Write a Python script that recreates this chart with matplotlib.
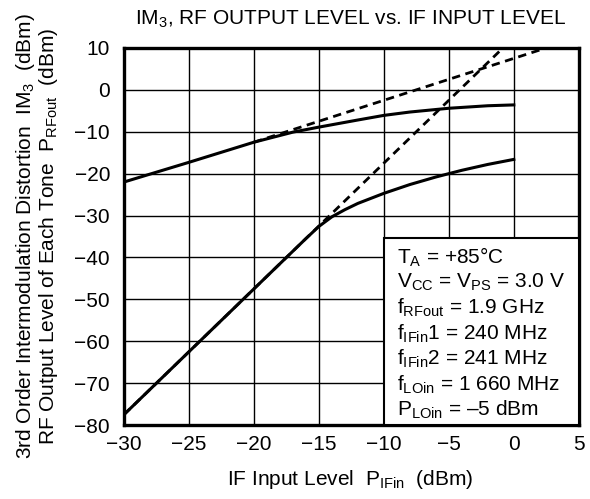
import matplotlib
matplotlib.use('Agg')
import matplotlib.pyplot as plt
from matplotlib.patches import Rectangle

plt.rcParams['font.family'] = ['Liberation Sans', 'DejaVu Sans']
plt.rcParams['mathtext.fontset'] = 'custom'
plt.rcParams['mathtext.rm'] = 'Liberation Sans'
plt.rcParams['mathtext.it'] = 'Liberation Sans'
plt.rcParams['font.size'] = 15

fund_x = [-30, -25, -20, -17, -15, -12, -10, -8, -5, -2, 0]
fund_y = [-22, -17.3, -12.5, -10.1, -8.9, -7.2, -6.1, -5.3, -4.4, -3.8, -3.6]
im3_x = [-30, -25, -20, -16, -15, -14, -13, -12, -10, -8, -6, -4, -2, 0]
im3_y = [-77.5, -62.5, -47.5, -35.5, -32.6, -30.3, -28.6, -27.1, -24.7,
         -22.6, -20.8, -19.2, -17.8, -16.6]

# extrapolated (dashed) lines
fund_ext_x = [-20, 2.6]
fund_ext_y = [-12.5, 10.1]
im3_ext_x = [-30, -0.8]
im3_ext_y = [-77.5, 10.1]

xticks = [-30, -25, -20, -15, -10, -5, 0, 5]
yticks = [-80, -70, -60, -50, -40, -30, -20, -10, 0, 10]

cond_lines = [
    r'T$_{\mathrm{A}}$ = +85°C',
    r'V$_{\mathrm{CC}}$ = V$_{\mathrm{PS}}$ = 3.0 V',
    r'f$_{\mathrm{RFout}}$ = 1.9 GHz',
    r'f$_{\mathrm{IFin}}$1 = 240 MHz',
    r'f$_{\mathrm{IFin}}$2 = 241 MHz',
    r'f$_{\mathrm{LOin}}$ = 1 660 MHz',
    r'P$_{\mathrm{LOin}}$ = –5 dBm',
]

fig = plt.figure(figsize=(5.9, 4.99), dpi=100)
ax = fig.add_axes([0.210, 0.148, 0.771, 0.756])

ax.plot(fund_ext_x, fund_ext_y, color='k', lw=2, ls=(0, (3, 2)), zorder=3)
ax.plot(im3_ext_x, im3_ext_y, color='k', lw=2, ls=(0, (3, 2)), zorder=3)
ax.plot(fund_x, fund_y, color='k', lw=2.2, zorder=4)
ax.plot(im3_x, im3_y, color='k', lw=2.2, zorder=4)

ax.set_xlim(-30, 5)
ax.set_ylim(-80, 10)
ax.set_xticks(xticks)
ax.set_yticks(yticks)
ax.grid(True, color='k', lw=1.0)
ax.tick_params(length=0, labelsize=15)
ax.tick_params(axis='x', pad=7)
ax.tick_params(axis='y', pad=10)
for sp in ax.spines.values():
    sp.set_linewidth(2.4)

# condition box covering the lower right grid cells
ax.add_patch(Rectangle((-10, -80), 15, 44.6, facecolor='white',
                       edgecolor='k', lw=1.5, zorder=5))
for i, line in enumerate(cond_lines):
    ax.text(0.60, 0.446 - i * 0.0676, line, transform=ax.transAxes,
            fontsize=15, va='center', ha='left', zorder=6)

fig.text(0.594, 0.962, r'IM$_{\mathrm{3}}$, RF OUTPUT LEVEL vs. IF INPUT LEVEL',
         ha='center', va='center', fontsize=15)
fig.text(0.594, 0.040, r'IF Input Level  P$_{\mathrm{IFin}}$  (dBm)',
         ha='center', va='center', fontsize=15)
fig.text(0.043, 0.527, r'3rd Order Intermodulation Distortion  IM$_{\mathrm{3}}$  (dBm)',
         rotation=90, ha='center', va='center', fontsize=15)
fig.text(0.083, 0.527, r'RF Output Level of Each Tone  P$_{\mathrm{RFout}}$  (dBm)',
         rotation=90, ha='center', va='center', fontsize=15)

fig.savefig('out.png', dpi=100)
